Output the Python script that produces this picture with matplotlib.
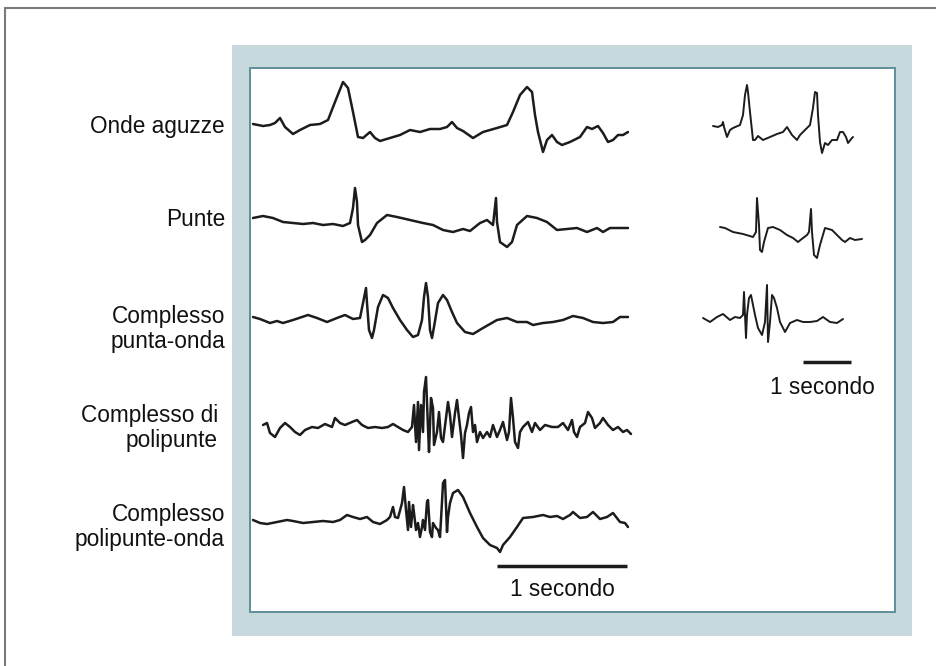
import numpy as np
import matplotlib
matplotlib.use("Agg")
import matplotlib.pyplot as plt
from matplotlib.patches import Rectangle

# campioni (indice di campione) e ampiezze (unita' arbitrarie)
FS_LEFT = 130.0   # campioni al secondo, tracce lunghe
FS_RIGHT = 48.0   # campioni al secondo, tracce corte

labels = ["Onde aguzze", "Punte", "Complesso\npunta-onda",
          "Complesso di\npolipunte", "Complesso\npolipunte-onda"]

s_onde = [0, 10, 17, 22, 27, 32, 40, 47, 57, 67, 75, 82, 90, 95, 100, 105, 110, 117, 122, 127,
          137, 147, 157, 167, 177, 187, 194, 199, 204, 210, 220, 230, 244, 254, 260, 267, 274, 279,
          282, 285, 290, 294, 299, 304, 309, 317, 327, 334, 339, 345, 350, 355, 360, 365, 370, 375]
a_onde = [1, -1, 0, 2, 7, -2, -9, -5, 0, 1, 5, 23, 43, 37, 13, -12, -13, -7, -13, -16,
          -13, -10, -5, -7, -4, -4, -2, 3, -3, -6, -13, -7, -3, 0, 13, 30, 38, 33,
          10, -7, -27, -15, -10, -17, -20, -17, -12, -2, -4, -1, -8, -17, -15, -10, -10, -7]

s_punte = [0, 10, 20, 30, 40, 50, 60, 70, 80, 90, 97, 100, 102, 104, 105, 109, 112, 117, 124, 134,
           144, 157, 170, 180, 190, 200, 210, 217, 227, 234, 240, 243, 244, 247, 254, 259, 264, 274,
           284, 294, 304, 314, 324, 334, 344, 350, 357, 367, 375]
a_punte = [0, 2, 0, -4, -5, -6, -5, -7, -6, -8, -5, 10, 30, 16, -7, -24, -22, -17, -5, 3,
           1, -2, -5, -7, -12, -14, -11, -13, -5, -2, -7, 20, -4, -24, -29, -24, -7, 2,
           0, -4, -12, -11, -10, -14, -10, -14, -10, -10, -10]

s_po = [0, 7, 17, 24, 30, 40, 55, 64, 74, 84, 92, 100, 107, 110, 113, 114, 116, 119, 121, 125,
        130, 135, 140, 147, 154, 160, 165, 169, 171, 173, 175, 177, 179, 181, 185, 190, 194, 199,
        204, 212, 220, 230, 244, 254, 264, 274, 280, 290, 300, 310, 320, 330, 340, 350, 360, 367, 375]
a_po = [1, -1, -5, -3, -5, -2, 3, 0, -4, 0, 3, -1, 0, 15, 30, 15, -12, -20, -12, 11,
        23, 20, 10, -2, -12, -19, -17, -2, 21, 35, 21, -12, -20, -9, 15, 23, 18, 6,
        -5, -14, -16, -10, -2, 0, -4, -4, -7, -5, -4, -2, 2, 0, -4, -5, -4, 1, 1]

s_poli = [10, 14, 17, 22, 27, 32, 37, 42, 47, 52, 59, 65, 72, 79, 82, 87, 92, 99, 104, 109,
          115, 122, 129, 135, 140, 145, 150, 155, 159, 161, 163, 165, 166, 168, 170, 171, 173, 175,
          176, 178, 180, 181, 184, 186, 188, 190, 193, 195, 197, 199, 202, 204, 206, 208, 210, 212,
          214, 216, 218, 220, 222, 224, 227, 230, 234, 237, 240, 244, 247, 250, 254, 256, 258, 260,
          262, 265, 267, 270, 275, 279, 282, 287, 292, 299, 305, 310, 315, 319, 321, 324, 327, 332,
          335, 339, 342, 347, 350, 355, 360, 365, 370, 374, 378]
a_poli = [2, 4, -6, -10, -1, 4, 0, -5, -8, -3, 0, -1, 3, 0, 9, 4, 2, 5, 7, 2,
          -1, 0, -1, 0, 3, 0, -3, -5, 0, 22, -15, 25, -23, 22, -5, 35, 50, -1,
          -25, 29, 19, -18, -5, 15, -11, -15, 9, 25, 12, -10, 14, 27, 9, -8, -31, -6,
          2, 14, 20, -5, 2, -15, -5, -11, -5, -10, 2, -10, -3, 5, -13, -5, 29, 9,
          -15, -21, -5, 0, 5, -5, 4, -3, 2, 0, 0, 4, -3, 7, -5, -10, 0, 4,
          15, 9, -1, 4, 9, 2, -3, 0, -5, -3, -7]

s_pwo = [0, 7, 14, 24, 34, 40, 50, 60, 70, 80, 87, 94, 100, 107, 114, 120, 127, 134, 137, 140,
         142, 145, 149, 151, 153, 155, 156, 158, 160, 161, 163, 165, 167, 169, 170, 172, 174, 175,
         177, 179, 180, 183, 185, 187, 189, 190, 192, 194, 195, 197, 200, 205, 210, 217, 224, 230,
         237, 244, 247, 250, 257, 264, 270, 280, 290, 297, 304, 310, 317, 320, 327, 334, 340, 347,
         354, 360, 367, 372, 375]
a_pwo = [1, -2, -3, -1, 1, 0, -2, -1, 0, -1, 1, 6, 4, 2, 4, -1, -3, 1, 4, 14,
         4, 3, 18, 34, 11, -9, 19, -6, 16, 8, -9, -2, -16, -6, 1, -9, 19, 21,
         -11, -16, -2, -7, -9, -16, 19, 38, 41, -11, 4, 18, 28, 31, 24, 8, -6, -17,
         -24, -27, -31, -24, -16, -6, 3, 4, 6, 4, 5, 2, 6, 9, 3, 4, 9, 2,
         4, 8, -1, -2, -6]

# tracce corte (a destra)
s_onde_r = [0, 5, 9, 10, 11, 14, 17, 20, 27, 30, 32, 34, 35, 37, 40, 42, 45, 50, 57, 64,
            70, 74, 79, 84, 87, 92, 97, 100, 102, 104, 105, 107, 109, 112, 115, 119, 124, 127,
            130, 133, 135, 139, 140]
a_onde_r = [-1, -2, 0, 3, -2, -12, -5, -3, 0, 10, 30, 40, 33, 13, -15, -15, -11, -15, -12, -9,
            -7, -2, -10, -15, -10, -5, 0, 17, 33, 32, 10, -17, -28, -18, -20, -15, -15, -7,
            -7, -12, -18, -13, -12]

s_punte_r = [0, 5, 13, 23, 33, 36, 37, 39, 40, 42, 44, 48, 53, 60, 67, 73, 78, 83, 87, 89,
             91, 92, 94, 97, 100, 105, 112, 117, 122, 125, 130, 135, 142]
a_punte_r = [5, 4, 0, -2, -5, 0, 34, 7, -18, -20, -10, 4, 5, 2, -3, -6, -10, -6, -3, 0,
             23, 0, -23, -26, -13, 4, 2, -3, -8, -10, -6, -8, -7]

s_po_r = [0, 7, 14, 20, 27, 32, 37, 40, 41, 43, 44, 46, 48, 50, 52, 55, 59, 62, 64, 65,
          67, 69, 71, 74, 77, 82, 87, 94, 100, 107, 114, 120, 127, 134, 140]
a_po_r = [2, -2, 3, 6, 0, 3, 2, 5, 28, -18, 5, 22, 25, 15, 5, -8, -15, -2, 35, -22,
          -2, 25, 22, 12, -2, -12, -3, 0, -2, -2, -1, 3, -2, -3, 1]

left_traces = [(s_onde, a_onde), (s_punte, a_punte), (s_po, a_po),
               (s_poli, a_poli), (s_pwo, a_pwo)]
right_traces = [(s_onde_r, a_onde_r), (s_punte_r, a_punte_r), (s_po_r, a_po_r)]

# posizioni (pixel)
W, H = 937, 666
left_x0 = 253
left_px_per_s = 130
left_base = [125, 218, 318, 427, 521]
label_y = [126, 220, 329, 428, 527]
label_x = [225, 225, 225, 218, 225]
right_x0 = [713, 720, 703]
right_px_per_s = 48
right_base = [125, 232, 320]

ink = "#1c1c1c"
fnt = "Liberation Sans"
fs = 16.3

fig = plt.figure(figsize=(W / 100, H / 100), dpi=100)
ax = fig.add_axes([0, 0, 1, 1])
ax.set_xlim(0, W)
ax.set_ylim(H, 0)
ax.axis("off")

# cornice esterna
ax.add_patch(Rectangle((5, 8), W + 10, H + 10, facecolor="white", edgecolor="#7a7a7a", lw=1.5))
# pannello azzurro e riquadro bianco
ax.add_patch(Rectangle((232, 45), 680, 591, facecolor="#c8d9de", edgecolor="none"))
ax.add_patch(Rectangle((250, 68), 645, 544, facecolor="white", edgecolor="#5f8e99", lw=1.4))

for (s, a), base in zip(left_traces, left_base):
    t = np.array(s) / FS_LEFT
    ax.plot(left_x0 + t * left_px_per_s, base - np.array(a), color=ink, lw=1.8,
            solid_joinstyle="round", solid_capstyle="round")

for (s, a), x0, base in zip(right_traces, right_x0, right_base):
    t = np.array(s) / FS_RIGHT
    ax.plot(x0 + t * right_px_per_s, base - np.array(a), color=ink, lw=1.4,
            solid_joinstyle="round", solid_capstyle="round")

for lab, x, y in zip(labels, label_x, label_y):
    ax.text(x, y, lab, ha="right", va="center", fontsize=fs, family=fnt,
            color="#111111", linespacing=1.15)

# barre di scala: 1 secondo
ax.plot([497, 497 + left_px_per_s * 1.0], [566, 566], color=ink, lw=2.5, solid_capstyle="butt")
ax.text(497 + left_px_per_s / 2, 590, "1 secondo", ha="center", va="center",
        fontsize=fs, family=fnt, color="#111111")
ax.plot([803, 803 + right_px_per_s * 1.0], [362, 362], color=ink, lw=2.5, solid_capstyle="butt")
ax.text(822, 387, "1 secondo", ha="center", va="center",
        fontsize=fs, family=fnt, color="#111111")

fig.savefig("out.png", dpi=100)
